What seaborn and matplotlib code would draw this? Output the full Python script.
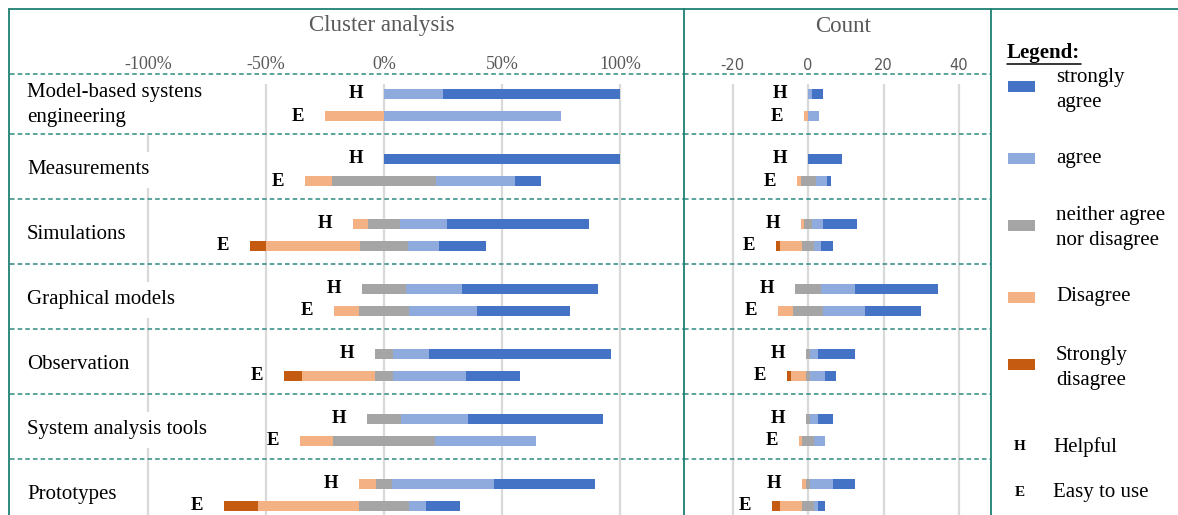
import matplotlib.pyplot as plt
import numpy as np
import pandas as pd
import seaborn as sns
from matplotlib.lines import Line2D
from matplotlib.patches import Rectangle

W, H = 1178, 515

tools = [
    "Model-based systens\nengineering",
    "Measurements",
    "Simulations",
    "Graphical models",
    "Observation",
    "System analysis tools",
    "Prototypes",
]
measures = ["H", "E"]
levels = ["strongly disagree", "disagree", "neutral", "agree", "strongly agree"]

# answer counts per tool: strongly disagree, disagree, neutral, agree, strongly agree
helpful_counts = [
    [0, 0, 0, 1, 3],
    [0, 0, 0, 0, 9],
    [0, 1, 2, 3, 9],
    [0, 0, 7, 9, 22],
    [0, 0, 1, 2, 10],
    [0, 0, 1, 2, 4],
    [0, 1, 1, 6, 6],
]
easy_counts = [
    [0, 1, 0, 3, 0],
    [0, 1, 4, 3, 1],
    [1, 6, 3, 2, 3],
    [0, 4, 8, 11, 15],
    [1, 4, 1, 4, 3],
    [0, 1, 3, 3, 0],
    [2, 6, 3, 1, 2],
]

pct_ticks = [-100, -50, 0, 50, 100]
count_ticks = [-20, 0, 20, 40]

colors = {
    "strongly agree": "#4472C4",
    "agree": "#8FAADC",
    "neutral": "#A5A5A5",
    "disagree": "#F4B183",
    "strongly disagree": "#C55A11",
}
teal = "#1F7F72"
dash_teal = "#2E8C80"
grid_gray = "#D9D9D9"
text_gray = "#595959"

sns.set_theme(style="white")
plt.rcParams["font.family"] = ["Liberation Serif", "DejaVu Serif"]


def segment_ends(counts, scale):
    sd, d, n, a, sa = [c * scale for c in counts]
    # bars are all drawn from 0 and overlaid, widest first
    return [
        ("strongly agree", n / 2 + a + sa),
        ("agree", n / 2 + a),
        ("neutral", n / 2),
        ("strongly disagree", -(n / 2 + d + sd)),
        ("disagree", -(n / 2 + d)),
        ("neutral", -n / 2),
    ]


rows = []
for tool, hc, ec in zip(tools, helpful_counts, easy_counts):
    for m, counts in zip(measures, [hc, ec]):
        total = sum(counts)
        pct = segment_ends(counts, 100 / total)
        cnt = segment_ends(counts, 1)
        for step, ((seg, p), (_, c)) in enumerate(zip(pct, cnt)):
            rows.append(dict(tool=tool, measure=m, segment=seg, step=step, pct=p, count=c))
df = pd.DataFrame(rows)

fig = plt.figure(figsize=(W / 100, H / 100), dpi=100)


def fx(x):
    return x / W


def fy(y):
    return 1 - y / H


ax1 = fig.add_axes([fx(10), 0, fx(684) - fx(10), fy(74)])
ax2 = fig.add_axes([fx(684), 0, fx(991) - fx(684), fy(74)])

y_top, y_bot = -0.477, 6.31


def draw_panel(ax, col, xlim, ticks, ticklabels, tickfont):
    for step in range(6):
        sub = df[df["step"] == step]
        seg = sub["segment"].iloc[0]
        sns.barplot(
            data=sub, x=col, y="tool", hue="measure", hue_order=measures,
            order=tools, palette={m: colors[seg] for m in measures},
            orient="h", width=0.68, gap=0.55, errorbar=None, legend=False,
            saturation=1, linewidth=0, ax=ax, zorder=3,
        )
    ax.vlines(ticks, -0.32, y_bot, color=grid_gray, lw=1.6, zorder=1)
    for i in range(1, len(tools)):
        ax.axhline(i - 0.55, color=dash_teal, lw=1.1, ls=(0, (3, 2)), zorder=2)
    ax.axhline(y_top, color=dash_teal, lw=1.1, ls=(0, (3, 2)), clip_on=False)
    # H / E labels left of each bar
    left = df.groupby(["tool", "measure"])[col].min().clip(upper=0)
    for i, tool in enumerate(tools):
        for m, off in zip(measures, [-0.17, 0.17]):
            ax.annotate(
                m, xy=(left[(tool, m)], i + off), xytext=(-15, 0),
                textcoords="offset points", ha="right", va="center",
                fontsize=13.5, fontweight="bold", color="black", zorder=4,
            )
    ax.set_xlim(*xlim)
    ax.set_ylim(y_bot, y_top)
    ax.xaxis.tick_top()
    ax.set_xticks(ticks)
    ax.set_xticklabels(ticklabels, color=text_gray, **tickfont)
    ax.tick_params(axis="x", length=0, pad=1)
    ax.tick_params(axis="y", left=False, labelleft=False)
    ax.set_xlabel("")
    ax.set_ylabel("")
    ax.grid(False)
    for s in ax.spines.values():
        s.set_visible(False)
    ax.patch.set_alpha(0)


draw_panel(ax1, "pct", (-158.5, 127.1), pct_ticks,
           [f"{t}%" for t in pct_ticks], dict(fontsize=13))
draw_panel(ax2, "count", (-32.9, 48.5), count_ticks,
           [str(t) for t in count_ticks], dict(fontsize=10.5, family="DejaVu Sans"))

# category names sit on white boxes that hide the gridlines but not the dashed separators
for i, tool in enumerate(tools):
    ax1.text(0.0252, i, tool, transform=ax1.get_yaxis_transform(), ha="left",
             va="center", fontsize=15, color="black", linespacing=1.38, zorder=1.5,
             bbox=dict(facecolor="white", edgecolor="none", pad=6))

fig.text(fx(382), fy(26), "Cluster analysis", ha="center", va="center",
         fontsize=16.5, color=text_gray)
fig.text(fx(843), fy(26), "Count", ha="center", va="center",
         fontsize=16.5, color=text_gray)

# frame lines
for xs, ys in [([9, W], [9, 9]), ([9, 9], [9, H]), ([684, 684], [9, H]), ([991, 991], [9, H])]:
    fig.add_artist(Line2D([fx(x) for x in xs], [fy(y) for y in ys],
                          color=teal, lw=1.3, transform=fig.transFigure))

# legend panel
fig.text(fx(1007), fy(53), "Legend:", ha="left", va="center", fontsize=15,
         fontweight="bold", color="black")
fig.add_artist(Line2D([fx(1007), fx(1081)], [fy(64), fy(64)], color="black",
                      lw=1.1, transform=fig.transFigure))
legend_items = [
    ("strongly agree", "strongly\nagree", 86, 90),
    ("agree", "agree", 158, 158),
    ("neutral", "neither agree\nnor disagree", 226, 228),
    ("disagree", "Disagree", 297, 297),
    ("strongly disagree", "Strongly\ndisagree", 364, 368),
]
for key, label, py, ty in legend_items:
    fig.add_artist(Rectangle((fx(1008), fy(py + 5.5)), 27 / W, 11 / H,
                             color=colors[key], transform=fig.transFigure, lw=0))
    fig.text(fx(1056), fy(ty), label, ha="left", va="center", fontsize=15,
             color="black", linespacing=1.38)
for m, label, ty in [("H", "Helpful", 447), ("E", "Easy to use", 492)]:
    fig.text(fx(1020), fy(ty), m, ha="center", va="center", fontsize=11,
             fontweight="bold", color="black")
    fig.text(fx(1053), fy(ty), label, ha="left", va="center", fontsize=15,
             color="black")

fig.savefig("out.png", dpi=100)
